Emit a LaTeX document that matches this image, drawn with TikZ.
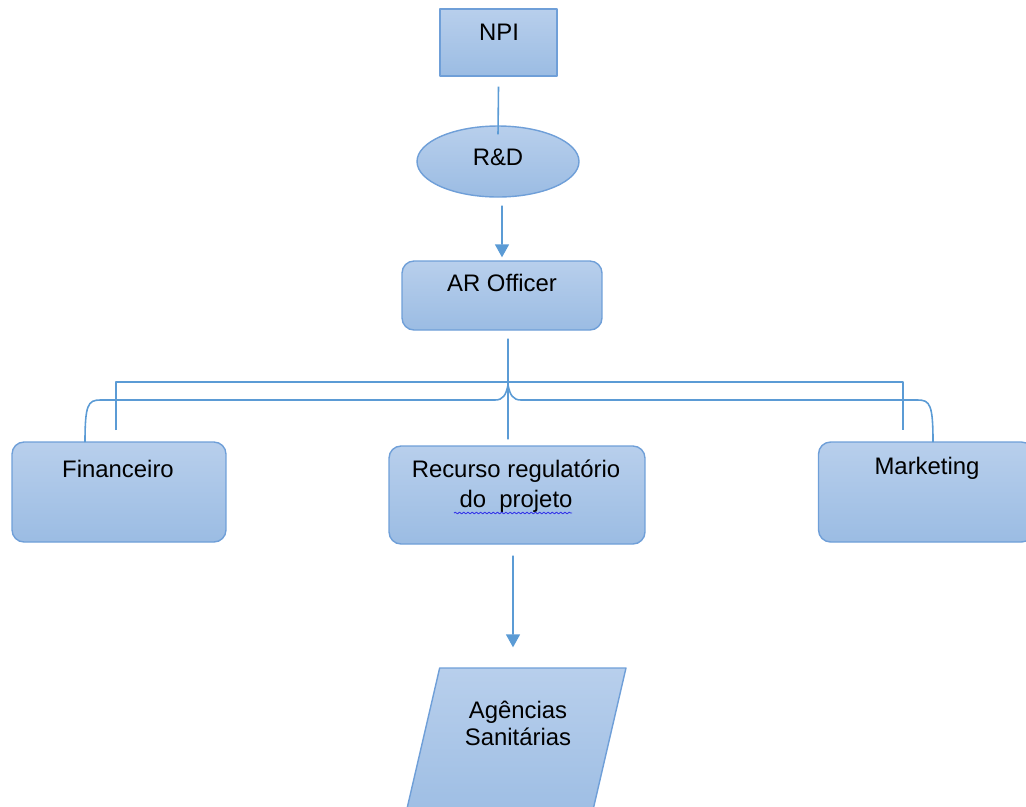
\documentclass[tikz,border=0pt]{standalone}
\usepackage{fontspec}
\setmainfont{Liberation Sans}
\usetikzlibrary{shapes.geometric,positioning,decorations.pathmorphing,arrows.meta}
\definecolor{boxtop}{HTML}{B8CFEC}
\definecolor{boxbot}{HTML}{9BBCE3}
\definecolor{boxline}{HTML}{6F9FD8}
\definecolor{linkblue}{HTML}{5B9BD5}
\definecolor{spellblue}{HTML}{3535E8}
\tikzset{
  box/.style={draw=boxline, top color=boxtop, bottom color=boxbot, line width=0.8pt},
  rbox/.style={box, rounded corners=0.24cm},
  txt/.style={font=\fontsize{13.6}{16}\selectfont, inner sep=0pt, align=center},
  link/.style={draw=linkblue, line width=0.9pt},
  tip/.style={-{Triangle[length=0.26cm,width=0.28cm]}}
}
\begin{document}
\begin{tikzpicture}[x=0.02cm,y=-0.02cm,line join=round]
\useasboundingbox (0,0) rectangle (1026,806);
% boxes
\node[box, minimum width=2.34cm, minimum height=1.34cm] (npi) at (498.5,42.5) {};
\node[box, ellipse, minimum width=3.24cm, minimum height=1.42cm] (rd) at (498,161.5) {};
\node[rbox, minimum width=4cm, minimum height=1.38cm] (ar) at (502,295.5) {};
\node[rbox, minimum width=4.28cm, minimum height=2cm] (fin) at (119,492) {};
\node[rbox, minimum width=5.12cm, minimum height=1.96cm] (rec) at (517,495) {};
\node[rbox, minimum width=4.3cm, minimum height=2cm] (mkt) at (926,492) {};
\node[box, trapezium, trapezium left angle=75.8, trapezium right angle=104.2,
  trapezium stretches=true, minimum width=4.48cm, minimum height=3.24cm] (agc) at (514,749) {};
% texts
\node[txt] (npiT) at (499,32) {NPI};
\node[txt] (rdT) at (498,157) {R\&D};
\node[txt] (arT) at (502,283) {AR Officer};
\node[txt] (finT) at (118,469) {Financeiro};
\node[txt, font=\fontsize{13.6}{17}\selectfont] (recT) at (516,486) {Recurso regulatório\\do\ \ projeto};
\node[txt] (mktT) at (927,468) {Marketing};
\node[txt, font=\fontsize{13.6}{15.4}\selectfont] (agcT) at (518,723) {Agências\\Sanitárias};
\draw[spellblue, line width=0.5pt, decorate, decoration={snake, amplitude=0.5pt, segment length=2.4pt}]
  (454,513) -- (572,513);
% connectors
\draw[link] ([yshift=-0.2cm]npi.south) -- ([yshift=-0.18cm]rd.north);
\draw[link, tip] ([xshift=0.08cm,yshift=-0.16cm]rd.south) -- ([yshift=0.06cm]ar.north);
\draw[link] ([xshift=0.12cm,yshift=-0.16cm]ar.south) -- ([xshift=-0.18cm,yshift=0.12cm]rec.north);
\draw[link, tip] ([xshift=-0.08cm,yshift=-0.22cm]rec.south) -- ([xshift=-0.02cm,yshift=0.4cm]agc.north);
% brackets
\draw[link] (116,430) -- (116,382) -- (903,382) -- (903,430);
\draw[link] (85,442) .. controls (85,405) and (88,400) .. (100,400) -- (495,400)
  .. controls (503,400) and (506,395) .. (508,385)
  .. controls (510,395) and (513,400) .. (521,400) -- (918,400)
  .. controls (930,400) and (933,405) .. (933,442);
\end{tikzpicture}
\end{document}
